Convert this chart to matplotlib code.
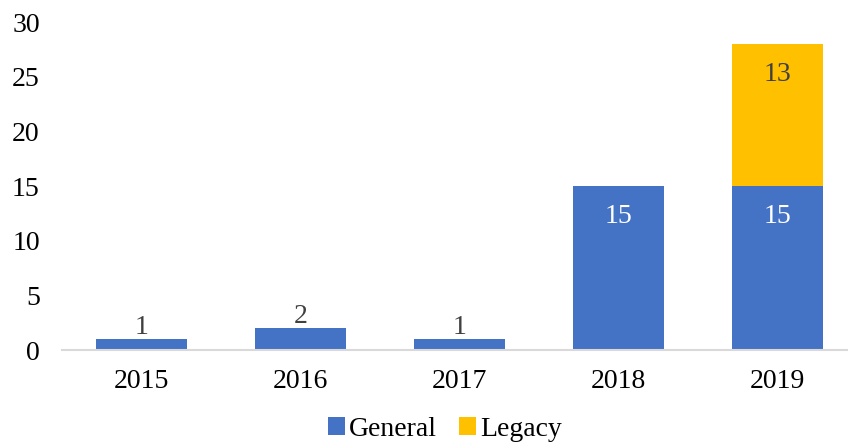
import matplotlib.pyplot as plt

years = ['2015', '2016', '2017', '2018', '2019']
general = [1, 2, 1, 15, 15]
legacy = [0, 0, 0, 0, 13]

plt.rcParams['font.family'] = ['Liberation Serif', 'DejaVu Serif']
FS = 20

fig = plt.figure(figsize=(8.48, 4.48), dpi=100)
ax = fig.add_axes([62 / 848, 1 - 350 / 448, 795 / 848, 328 / 448])

x = range(len(years))
width = 0.575
ax.bar(x, general, width, color='#4472C4', label='General')
ax.bar(x, legacy, width, bottom=general, color='#FFC000', label='Legacy')

# data labels: small bars above, tall bars inside
for i, v in enumerate(general):
    if v >= 5:
        ax.text(i, v - 2.8, str(v), ha='center', va='center', fontsize=FS, color='white')
    else:
        ax.text(i, v + 1.05, str(v), ha='center', va='center', fontsize=FS, color='#404040')
for i, v in enumerate(legacy):
    if v > 0:
        ax.text(i, general[i] + v - 2.8, str(v), ha='center', va='center', fontsize=FS, color='#404040')

ax.set_xlim(-0.5, len(years) - 0.5)
ax.set_ylim(0, 30)
ax.set_yticks(range(0, 31, 5))
ax.set_xticks(list(x))
ax.set_xticklabels(years)
ax.tick_params(length=0, labelsize=FS, colors='black')
ax.tick_params(axis='x', pad=14)
ax.tick_params(axis='y', pad=16)
for s in ['top', 'right', 'left']:
    ax.spines[s].set_visible(False)
ax.spines['bottom'].set_color('#D9D9D9')
ax.spines['bottom'].set_linewidth(1.5)

fig.legend(loc='lower center', bbox_to_anchor=(0.525, -0.042), ncol=2, frameon=False,
           fontsize=FS, handlelength=0.6, handleheight=0.6, handletextpad=0.15,
           columnspacing=0.8)

fig.savefig('out.png', dpi=100)
